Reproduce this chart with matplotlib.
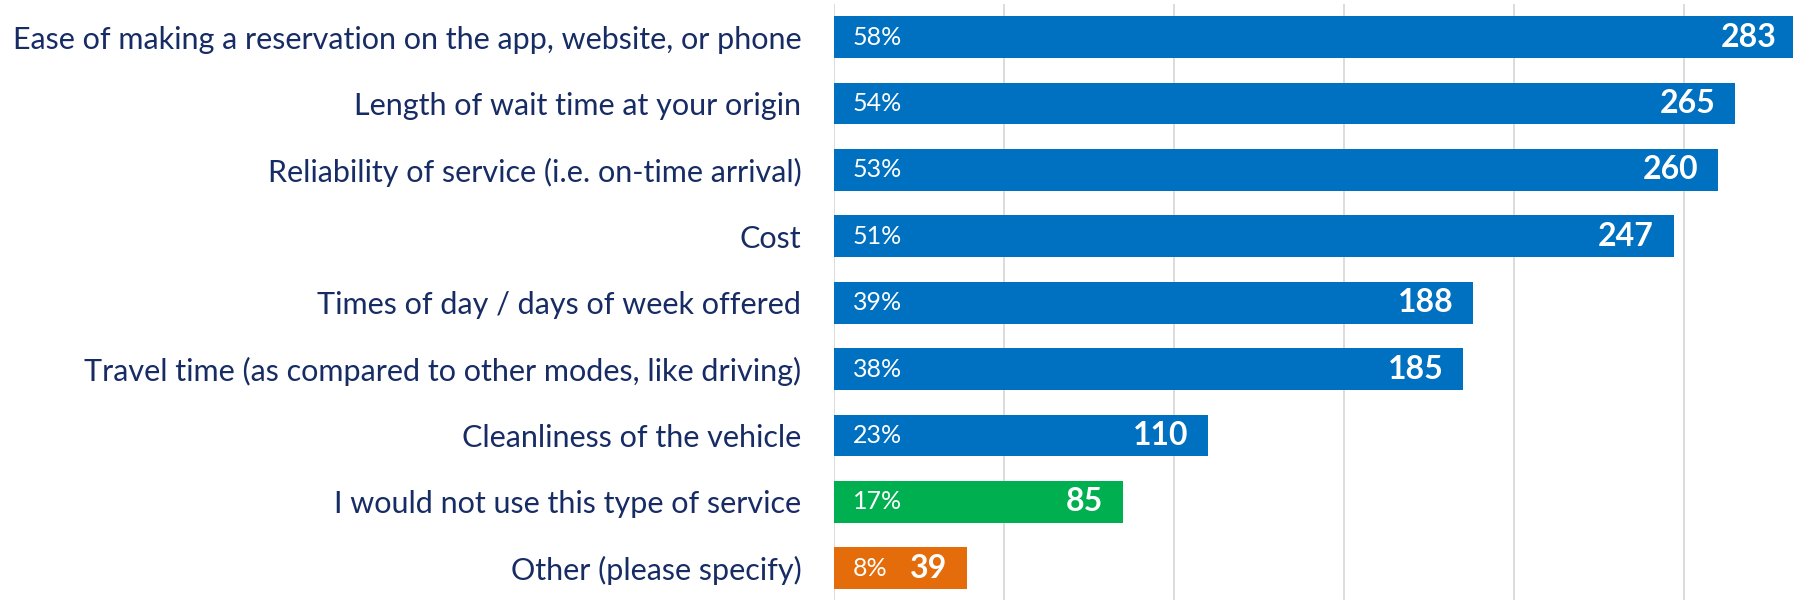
"""Horizontal bar chart of factors affecting use of an on-demand service."""

import matplotlib.pyplot as plt

categories = [
    "Ease of making a reservation on the app, website, or phone",
    "Length of wait time at your origin",
    "Reliability of service (i.e. on-time arrival)",
    "Cost",
    "Times of day / days of week offered",
    "Travel time (as compared to other modes, like driving)",
    "Cleanliness of the vehicle",
    "I would not use this type of service",
    "Other (please specify)",
]
counts = [283, 265, 260, 247, 188, 185, 110, 85, 39]
percents = ["58%", "54%", "53%", "51%", "39%", "38%", "23%", "17%", "8%"]
colors = ["#0070C0"] * 7 + ["#00B050", "#E46C0A"]

LABEL_COLOR = "#172C64"
FONT = ["Lato", "DejaVu Sans"]


def main() -> None:
    plt.rcParams["font.family"] = FONT
    fig = plt.figure(figsize=(17.93, 6.0), dpi=100)
    ax = fig.add_axes([0.4651, -0.0027, 0.5689, 0.9963])

    y = list(range(len(categories)))
    ax.barh(y, counts, height=0.63, color=colors, zorder=2)

    ax.set_xlim(0, 300)
    ax.set_ylim(len(categories) - 0.5, -0.5)
    ax.set_xticks(range(0, 301, 50))
    ax.grid(axis="x", color="#D9D9D9", linewidth=1.3, zorder=0)
    ax.tick_params(axis="x", bottom=False, labelbottom=False)
    ax.tick_params(axis="y", left=False, pad=20)
    for side in ax.spines.values():
        side.set_visible(False)

    ax.set_yticks(y)
    ax.set_yticklabels(categories, fontsize=22, color=LABEL_COLOR)

    # 1 data unit is 3.4 px here, so offsets of ~19 px are ~5.6 units
    for yi, n, pct in zip(y, counts, percents):
        ax.text(5.6, yi, pct, ha="left", va="center", color="white",
                fontsize=18, zorder=3)
        ax.text(n - 5.8, yi, str(n), ha="right", va="center", color="white",
                fontsize=23, fontweight="bold", zorder=3)

    fig.savefig("out.png", dpi=100)


if __name__ == "__main__":
    main()
